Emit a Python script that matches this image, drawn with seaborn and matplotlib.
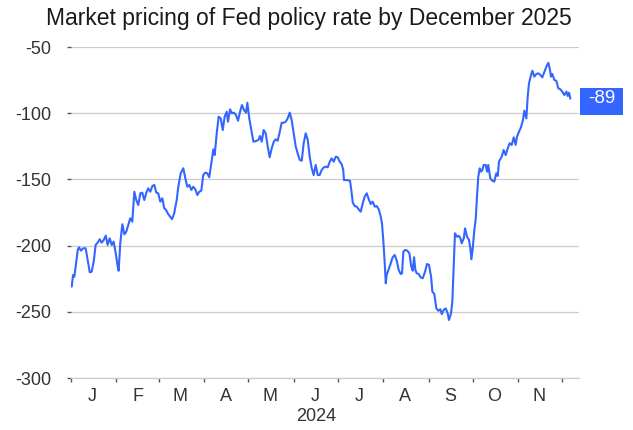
import numpy as np
import pandas as pd
import matplotlib
matplotlib.use("Agg")
import matplotlib.pyplot as plt
import matplotlib.dates as mdates
import matplotlib.transforms as mtransforms
from matplotlib.patches import Rectangle
from matplotlib.ticker import FixedLocator, FixedFormatter, NullFormatter
import seaborn as sns

# ---------------- data ----------------
title = "Market pricing of Fed policy rate by December 2025"
year_label = "2024"
month_labels = ["J", "F", "M", "A", "M", "J", "J", "A", "S", "O", "N"]
y_ticks = [-300, -250, -200, -150, -100, -50]

# days since 1 Jan 2024
days = [0.5, 1.4, 2.3, 4.6, 5.5, 6.8, 8.4, 10.0, 11.4, 12.8, 14.1, 15.5, 16.8, 18.2, 19.6,
        20.9, 22.3, 23.7, 25.0, 26.4, 27.8, 29.1, 30.5, 31.9, 32.5, 33.6, 35.0, 36.4, 37.7,
        39.1, 40.4, 41.8, 43.2, 44.5, 45.9, 47.3, 48.6, 50.0, 51.4, 52.7, 54.1, 55.5, 56.8,
        58.2, 59.5, 60.9, 62.3, 63.6, 64.8, 66.2, 67.5, 68.9, 70.3, 72.1, 73.2, 74.8, 76.6,
        78.0, 79.3, 80.7, 82.1, 83.4, 84.8, 86.2, 87.5, 88.9, 90.2, 91.6, 93.0, 94.3, 95.7,
        97.1, 98.0, 99.4, 100.7, 102.1, 103.5, 104.8, 106.2, 107.1, 108.5, 109.8, 111.2,
        112.5, 113.9, 115.3, 116.6, 118.0, 119.4, 120.3, 121.6, 123.0, 124.4, 126.2, 127.8,
        128.9, 130.1, 131.4, 132.8, 134.2, 135.5, 136.9, 138.3, 139.6, 141.0, 142.4, 143.7,
        145.1, 146.5, 147.8, 149.2, 150.5, 151.9, 153.3, 154.6, 156.0, 157.4, 158.7, 160.1,
        161.5, 162.8, 164.2, 165.5, 166.9, 168.3, 169.6, 171.0, 172.4, 173.7, 175.1, 176.5,
        177.8, 179.2, 180.6, 181.9, 183.3, 184.6, 185.7, 186.2, 188.1, 190.3, 191.2, 192.2,
        193.5, 194.9, 196.2, 197.6, 199.0, 200.3, 201.7, 203.1, 204.4, 205.8, 207.2, 208.5,
        209.9, 211.3, 212.1, 213.0, 214.0, 214.7, 215.3, 216.7, 218.1, 219.4, 220.8, 222.2,
        223.5, 224.9, 225.8, 226.7, 228.0, 229.4, 230.8, 232.1, 233.1, 234.0, 234.9, 235.8,
        237.2, 238.5, 239.9, 241.5, 242.8, 244.2, 245.6, 246.5, 247.8, 249.2, 250.5, 251.9,
        252.9, 254.2, 255.6, 256.9, 257.8, 259.2, 260.1, 261.0, 261.9, 263.3, 264.7, 265.6,
        266.5, 267.9, 268.8, 270.1, 271.5, 272.4, 273.1, 274.0, 275.1, 276.1, 276.9, 277.8,
        278.8, 279.7, 280.6, 281.5, 282.9, 283.8, 284.6, 286.0, 287.4, 288.7, 290.1, 291.1,
        291.9, 293.8, 295.1, 296.5, 297.9, 299.2, 300.6, 302.0, 303.3, 304.2, 305.6, 306.9,
        308.3, 309.2, 310.6, 311.5, 312.4, 313.8, 314.7, 316.0, 317.4, 318.8, 320.1, 321.5,
        322.9, 324.2, 325.6, 326.5, 327.4, 328.3, 329.7, 331.0, 332.4, 333.8, 335.1, 336.5,
        337.9, 338.8, 339.7, 340.6]

values = [-231, -222.2, -223.5, -203.3, -201.3, -203.8, -202, -202, -210.9, -220.2, -219.7,
          -212, -199.5, -197.8, -195.2, -197.8, -195.8, -192.5, -199.5, -194.5, -199.5, -197,
          -205.8, -216, -219, -198.3, -183.9, -191.5, -189.5, -184.4, -179.4, -181.9, -159.3,
          -165.6, -169.3, -160.5, -160, -165.6, -160, -156.7, -159.3, -155, -154.2, -160,
          -160.5, -166.8, -164.3, -171.8, -173, -176, -178, -180, -176, -165.6, -155.5,
          -145.4, -141.6, -149.2, -155.5, -154.2, -158, -155.5, -157.5, -161.8, -159.3,
          -158.5, -146.7, -144.9, -145.4, -148.4, -137.8, -127.3, -131.6, -115.2, -102.6,
          -103.9, -112.7, -102.6, -98.9, -106.4, -97.1, -100.1, -99.6, -101.4, -105.7, -98.9,
          -93.8, -97.6, -99.6, -92.1, -103.9, -112.7, -121.5, -121, -120.2, -117.2, -121.5,
          -112.7, -115.2, -125.3, -133.3, -126.5, -121.5, -119.7, -120.8, -114, -107.2,
          -107.2, -106.4, -103.9, -99.6, -105.1, -115.2, -125.3, -130.3, -135.3, -135.9,
          -122.7, -115.2, -120.2, -132.8, -141.6, -146.7, -139.1, -146.7, -146.7, -142.9,
          -140.9, -140.4, -140.9, -136.6, -134.1, -136.6, -132.8, -133.3, -136.6, -138.4,
          -142.9, -150.5, -150.5, -151, -158, -167.6, -170.1, -170.6, -172.6, -174.4, -168,
          -163.1, -160.5, -165, -168.6, -166.8, -170.6, -170.1, -172.6, -178.2, -183.2,
          -195.8, -213.4, -228.5, -222.2, -217.9, -213.4, -208.8, -207.1, -211.4, -218.4,
          -221.5, -220.9, -204.6, -203.3, -203.8, -205.8, -215.9, -219, -208.8, -218.4,
          -220.9, -221.5, -224, -224.7, -219.7, -213.9, -214.6, -223.5, -234.8, -236.6,
          -247.4, -249.2, -248.1, -251.7, -248.6, -247.4, -251.1, -256.2, -251.1, -242.4,
          -215.9, -190.7, -193.3, -192.7, -194.5, -198.3, -194.5, -186.9, -193.3, -195.8,
          -202.1, -210.4, -202.1, -188.2, -179.4, -163.1, -148, -141.6, -144.2, -142.9,
          -139.1, -139.1, -144.2, -139.1, -149.2, -151, -151.7, -145.4, -147.4, -136.6,
          -132.8, -127.8, -131.6, -126.5, -122.7, -124, -118.2, -124, -117.7, -113.9, -110.7,
          -105.1, -98.1, -103.9, -87.5, -77.4, -71.1, -67.9, -72.4, -70.4, -69.9, -71.1,
          -72.9, -68.7, -64.9, -61.9, -66.1, -72.4, -70.4, -74.9, -75.5, -81.2, -82, -83.7,
          -86.3, -83.7, -87, -84.5, -89]

last_label = "-89"

# ---------------- style ----------------
sns.set_theme(style="white")
plt.rcParams["font.family"] = ["Liberation Sans", "DejaVu Sans"]
plt.rcParams["axes.unicode_minus"] = False

BLUE = "#3366ff"
TXT = "#333333"

dates = pd.Timestamp("2024-01-01") + pd.to_timedelta(days, unit="D")
df = pd.DataFrame({"date": dates, "value": values})

fig = plt.figure(figsize=(6.33, 4.30), dpi=100)
ax = fig.add_axes([71 / 633, 1 - 378 / 430, 508 / 633, 331 / 430])

sns.lineplot(data=df, x="date", y="value", ax=ax, color=BLUE, linewidth=1.5)

ax.set_xlim(pd.Timestamp("2024-01-01"), pd.Timestamp("2024-12-12 12:00"))
ax.set_ylim(-300, -50)
ax.set_xlabel("")
ax.set_ylabel("")

# y axis
ax.yaxis.set_major_locator(FixedLocator(y_ticks))
ax.yaxis.set_major_formatter(FixedFormatter([str(v) for v in y_ticks]))
ax.tick_params(axis="y", left=True, length=3, width=1, color="#555555",
               pad=11, labelsize=13, labelcolor=TXT)
ax.yaxis.grid(True, color="#cccccc", linewidth=0.9)
ax.xaxis.grid(False)

# x axis: month-start ticks, mid-month letters
month_starts = pd.date_range("2024-01-01", "2024-12-01", freq="MS")
mid_months = [d + pd.Timedelta(days=14.5) for d in month_starts[:len(month_labels)]]
ax.xaxis.set_major_locator(FixedLocator(mdates.date2num(month_starts)))
ax.xaxis.set_major_formatter(NullFormatter())
ax.xaxis.set_minor_locator(FixedLocator(mdates.date2num(mid_months)))
ax.xaxis.set_minor_formatter(FixedFormatter(month_labels))
ax.tick_params(axis="x", which="major", bottom=True, length=3, width=1, color="#555555")
ax.tick_params(axis="x", which="minor", bottom=True, length=0, pad=7.5,
               labelsize=13, labelcolor=TXT)

for s in ["top", "right", "left"]:
    ax.spines[s].set_visible(False)
ax.spines["bottom"].set_color("#cccccc")
ax.spines["bottom"].set_linewidth(0.9)

# last value label
last = values[-1]
trans = mtransforms.blended_transform_factory(ax.transAxes, ax.transData)
ax.add_patch(Rectangle((1.002, last - 12.4), 0.0846, 20.4, transform=trans,
                       facecolor=BLUE, edgecolor="none", clip_on=False))
ax.text(1.002 + 0.0846 / 2, last, last_label, transform=trans, ha="center",
        va="center", color="white", fontsize=13.5, clip_on=False)

# titles
fig.text(309 / 633, 1 - 7 / 430, title, ha="center", va="top", fontsize=16.5,
         color="#1a1a1a")
fig.text(316 / 633, 1 - 408 / 430, year_label, ha="center", va="top",
         fontsize=13, color=TXT)

fig.savefig("out.png", dpi=100)
